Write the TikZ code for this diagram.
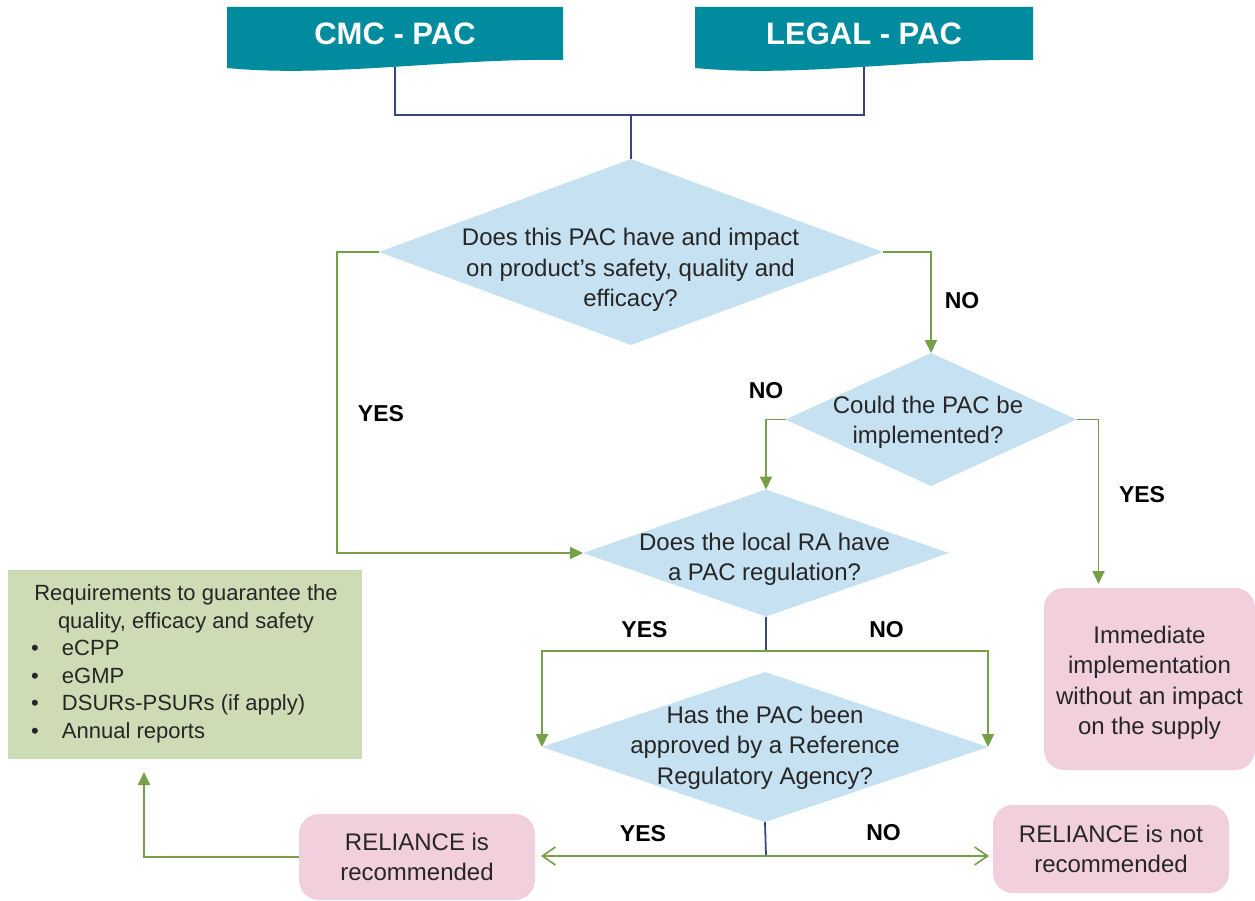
\documentclass[tikz,border=0pt]{standalone}
\usepackage{fontspec}
\setmainfont{Liberation Sans}
\usetikzlibrary{arrows.meta,shapes.geometric,calc}

\definecolor{bannerteal}{RGB}{0,139,158}
\definecolor{qblue}{RGB}{198,225,241}
\definecolor{flowgreen}{RGB}{118,160,72}
\definecolor{linknavy}{RGB}{56,70,128}
\definecolor{softpink}{RGB}{242,207,221}
\definecolor{sage}{RGB}{205,220,180}
\definecolor{ink}{RGB}{38,38,38}

% centred block of lines whose baseline is that of the first line
\newcommand{\flowlines}[1]{\begin{tabular}[t]{@{}c@{}}#1\end{tabular}}

\begin{document}
\begin{tikzpicture}[x=1pt,y=-1pt,
  every node/.style={inner sep=0pt,outer sep=0pt,text=ink},
  bannerbox/.style={minimum width=#1,minimum height=60pt,text=white,
    font=\fontsize{31}{37}\selectfont\bfseries,text height=22pt,text depth=6pt},
  question/.style={diamond,fill=qblue},
  qtext/.style={anchor=base,font=\fontsize{24}{30.5}\selectfont},
  outcome/.style={rounded corners=20pt,fill=softpink,
    font=\fontsize{24}{30.5}\selectfont,text height=0pt},
  reqbox/.style={fill=sage,minimum width=354pt,minimum height=189pt},
  reqtext/.style={font=\fontsize{22}{27.6}\selectfont},
  answer/.style={anchor=base,font=\fontsize{23}{28}\selectfont\bfseries,text=black},
  navyline/.style={draw=linknavy,line width=1.8pt},
  flow/.style={draw=flowgreen,line width=1.8pt,-{Triangle[length=13pt,width=12pt]}},
  openflow/.style={draw=flowgreen,line width=1.8pt,
    -{Straight Barb[length=13pt,width=18pt,line width=1.6pt]}},
]
\useasboundingbox (0,0) rectangle (1255,901);

% wavy banner backgrounds
\fill[bannerteal] (227,7) -- (563,7) -- (563,60)
  .. controls (450,58) and (330,78) .. (227,68) -- cycle;
\fill[bannerteal] (695,7) -- (1033,7) -- (1033,60)
  .. controls (920,58) and (800,78) .. (695,68) -- cycle;
\node[bannerbox=336pt] (cmc) at (395,37) {CMC - PAC};
\node[bannerbox=338pt] (legal) at (864,37) {LEGAL - PAC};

% decisions
\node[question,minimum width=504pt,minimum height=186pt] (d1) at (631,252) {};
\node[qtext] (d1t) at (630.5,246)
  {\flowlines{Does this PAC have and impact\\on product’s safety, quality and\\efficacy?}};
\node[question,minimum width=291pt,minimum height=133pt] (d2) at (931,419.5) {};
\node[qtext] (d2t) at (928,413) {\flowlines{Could the PAC be\\implemented?}};
\node[question,minimum width=366pt,minimum height=127pt] (d3) at (766,553) {};
\node[qtext] (d3t) at (764.5,550) {\flowlines{Does the local RA have\\a PAC regulation?}};
\node[question,minimum width=446pt,minimum height=150pt] (d4) at (765,747) {};
\node[qtext] (d4t) at (765,723)
  {\flowlines{Has the PAC been\\approved by a Reference\\Regulatory Agency?}};

% outcomes
\node[outcome,minimum width=236pt,minimum height=86pt,text depth=14pt]
  (rel) at (417,857) {\flowlines{RELIANCE is\\recommended}};
\node[outcome,minimum width=236pt,minimum height=88pt,text depth=14pt]
  (nrel) at (1111,849) {\flowlines{RELIANCE is not\\recommended}};
\node[outcome,minimum width=211pt,minimum height=182pt,text depth=72pt]
  (imm) at (1149.5,679)
  {\flowlines{Immediate\\implementation\\without an impact\\on the supply}};

% requirements box
\node[reqbox] (req) at (185,664.5) {};
\node[reqtext,anchor=base] (rq1) at (186,600) {Requirements to guarantee the};
\node[reqtext,anchor=base] (rq2) at (186,628) {quality, efficacy and safety};
\node[reqtext,anchor=base west] (it1) at (31,655) {\makebox[31pt][l]{•}eCPP};
\node[reqtext,anchor=base west] (it2) at (31,683) {\makebox[31pt][l]{•}eGMP};
\node[reqtext,anchor=base west] (it3) at (31,710) {\makebox[31pt][l]{•}DSURs-PSURs (if apply)};
\node[reqtext,anchor=base west] (it4) at (31,738) {\makebox[31pt][l]{•}Annual reports};

% answers
\node[answer] (a1) at (381,421) {YES};
\node[answer] (a2) at (962,308) {NO};
\node[answer] (a3) at (766,398) {NO};
\node[answer] (a4) at (1142,502) {YES};
\node[answer] (a5) at (644.5,637) {YES};
\node[answer] (a6) at (886.5,637) {NO};
\node[answer] (a7) at (643,841) {YES};
\node[answer] (a8) at (883.5,840) {NO};

% junction points
\coordinate (top) at (631,115);
\coordinate (split3) at (766,651);
\coordinate (split4) at (766,856);

% connectors
\draw[navyline] (cmc.south) |- (top) -| (legal.south);
\draw[navyline] (top) -- (d1.north);
\draw[flow] (d1.west) -- ++(-42,0) |- (d3.west);
\draw[flow] (d1.east) -| (d2.north);
\draw[flow] (d2.west) -| (d3.north);
\draw[flow,shorten >=4pt] (d2.east) -- ++(22,0) coordinate (yesr) -- (yesr |- imm.north);
\draw[navyline] (d3.south) -- (split3);
\draw[flow] (split3) -| (d4.west);
\draw[flow] (split3) -| (d4.east);
\draw[navyline] (d4.south) -- (split4);
\draw[openflow,shorten >=6pt] (split4) -- (split4 -| rel.east);
\draw[openflow,shorten >=4pt] (split4) -- (split4 -| nrel.west);
\draw[flow,shorten >=13pt] (rel.west) -| ([xshift=-41pt]req.south);
\end{tikzpicture}
\end{document}
